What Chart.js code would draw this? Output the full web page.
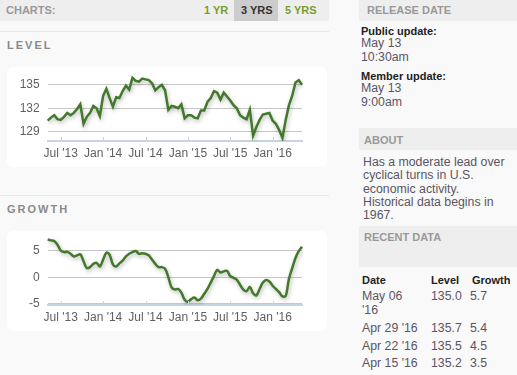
<!DOCTYPE html>
<html>
<head>
<meta charset="utf-8">
<script src="https://cdn.jsdelivr.net/npm/chart.js"></script>
<style>
body{margin:0;background:#f9f9f9;font-family:"Liberation Sans",Arial,sans-serif;width:517px;height:375px;overflow:hidden;position:relative}
.abs{position:absolute;white-space:nowrap}
.bar{position:absolute;background:#eeeeee}
.hd{font-weight:bold;font-size:11px;color:#999;line-height:14px}
.sec{font-weight:bold;font-size:11px;color:#8a8a8a;letter-spacing:2px;line-height:14px}
.card{position:absolute;left:7px;width:320px;height:100px;background:#fff;border-radius:6px}
.sep{position:absolute;left:0;width:329px;height:1px;background:#e8e8e8}
.lbl{font-weight:bold;font-size:11px;color:#222;line-height:14px}
.txt{font-size:12.3px;color:#5b5563;line-height:14px}
.grn{font-weight:bold;font-size:11px;color:#7a9e2c;line-height:14px}
</style>
</head>
<body>
<div class="bar" style="left:0;top:0;width:329px;height:21px"></div>
<div class="abs hd" style="left:6px;top:3px">CHARTS:</div>
<div class="abs grn" style="left:204px;top:3px">1 YR</div>
<div class="bar" style="left:234px;top:0;width:44px;height:21px;background:#cccccc"></div>
<div class="abs hd" style="left:241px;top:3px;color:#333">3 YRS</div>
<div class="abs grn" style="left:285px;top:3px">5 YRS</div>
<div class="sep" style="top:31px"></div>
<div class="abs sec" style="left:7px;top:38px">LEVEL</div>
<div class="card" style="top:67px"><canvas id="levelChart"></canvas></div>
<div class="sep" style="top:195px"></div>
<div class="abs sec" style="left:7px;top:202px">GROWTH</div>
<div class="card" style="top:231px"><canvas id="growthChart"></canvas></div>

<div class="bar" style="left:359px;top:0;width:158px;height:21px"></div>
<div class="abs hd" style="left:367px;top:3px">RELEASE DATE</div>
<div class="abs lbl" style="left:361px;top:24px">Public update:</div>
<div class="abs txt" style="left:361px;top:36px">May 13</div>
<div class="abs txt" style="left:361px;top:50px">10:30am</div>
<div class="abs lbl" style="left:361px;top:69px">Member update:</div>
<div class="abs txt" style="left:361px;top:81px">May 13</div>
<div class="abs txt" style="left:361px;top:95px">9:00am</div>

<div class="bar" style="left:359px;top:128px;width:158px;height:22px"></div>
<div class="abs hd" style="left:364px;top:133px">ABOUT</div>
<div class="abs txt" style="left:363px;top:156px;line-height:13.35px">Has a moderate lead over<br>cyclical turns in U.S.<br>economic activity.<br>Historical data begins in<br>1967.</div>

<div class="bar" style="left:359px;top:226px;width:158px;height:41px"></div>
<div class="abs hd" style="left:364px;top:230px">RECENT DATA</div>
<div class="abs lbl" style="left:362px;top:273px">Date</div>
<div class="abs lbl" style="left:431px;top:273px">Level</div>
<div class="abs lbl" style="left:472px;top:273px">Growth</div>
<div class="abs txt" style="left:362px;top:289px">May 06</div>
<div class="abs txt" style="left:362px;top:303px">'16</div>
<div class="abs txt" style="left:431px;top:289px">135.0</div>
<div class="abs txt" style="left:470px;top:289px">5.7</div>
<div class="abs txt" style="left:362px;top:321px">Apr 29 '16</div>
<div class="abs txt" style="left:431px;top:321px">135.7</div>
<div class="abs txt" style="left:470px;top:321px">5.4</div>
<div class="abs txt" style="left:362px;top:339px">Apr 22 '16</div>
<div class="abs txt" style="left:431px;top:339px">135.5</div>
<div class="abs txt" style="left:470px;top:339px">4.5</div>
<div class="abs txt" style="left:362px;top:356px">Apr 15 '16</div>
<div class="abs txt" style="left:431px;top:356px">135.2</div>
<div class="abs txt" style="left:470px;top:356px">3.5</div>

<script>
// biweekly readings, 10 May 2013 .. 6 May 2016
var levelValues = [
  130.4,130.8,131.1,130.6,130.5,130.9,131.4,131.1,131.4,131.9,
  132.5,130.0,130.9,131.4,132.3,132.0,131.0,133.6,134.5,133.3,
  132.2,133.4,133.3,134.2,134.9,134.4,135.9,135.5,135.4,135.8,
  135.7,135.6,135.2,134.3,134.7,135.0,134.3,131.8,132.3,132.2,
  132.0,132.5,130.7,131.1,131.1,130.8,130.7,131.7,131.7,132.8,
  133.3,134.2,134.0,133.1,134.0,133.5,133.0,132.4,132.0,131.1,
  130.8,130.6,131.8,128.5,129.6,130.5,131.2,131.3,131.4,130.4,
  130.0,129.2,128.2,130.5,132.4,133.6,135.3,135.6,135.0
];
var growthValues = [
  7.1,6.9,6.8,6.1,5.0,4.7,4.75,4.4,3.9,4.1,
  4.3,3.0,1.7,1.9,2.5,2.7,2.0,3.3,4.6,4.2,
  2.4,2.0,2.6,3.1,3.9,4.4,4.7,4.9,4.4,4.5,
  4.4,4.1,3.3,2.5,1.9,1.9,1.6,0.0,-1.9,-2.3,
  -2.2,-2.9,-4.2,-4.6,-4.1,-3.8,-4.3,-4.0,-3.1,-2.2,
  -1.0,0.2,1.4,0.9,1.1,1.2,0.2,-0.1,-0.45,-1.4,
  -2.3,-2.6,-1.8,-3.0,-3.4,-2.2,-1.0,-0.5,-0.8,-1.6,
  -2.2,-2.8,-3.6,-3.5,-0.3,1.7,3.6,4.9,5.7
];
var tickLabels = ["Jul '13", "Jan '14", "Jul '14", "Jan '15", "Jul '15", "Jan '16"];
var levelTicks = [129, 132, 135];
var growthTicks = [-5, 0, 5];

var startDate = new Date(2013, 4, 10);
var dates = levelValues.map(function (v, i) {
  var d = new Date(startDate);
  d.setDate(d.getDate() + i * 14);
  return d;
});
var names = dates.map(function (d) {
  var m = d.getMonth();
  if ((m === 0 || m === 6) && d.getDate() <= 14) {
    var s = (m === 0 ? 'Jan' : 'Jul') + " '" + String(d.getFullYear()).slice(2);
    if (tickLabels.indexOf(s) >= 0) return s;
  }
  return '';
});
var labels = dates.map(function (d) { return d.toISOString().slice(0, 10); });

var shadow = {
  id: 'shadow',
  beforeDatasetDraw: function (chart) {
    var c = chart.ctx;
    c.save();
    c.shadowColor = 'rgba(0,0,0,0.28)';
    c.shadowBlur = 4;
    c.shadowOffsetX = 1;
    c.shadowOffsetY = 2;
  },
  afterDatasetDraw: function (chart) { chart.ctx.restore(); }
};
var tickMarks = {
  id: 'tickMarks',
  afterDraw: function (chart) {
    var x = chart.scales.x, c = chart.ctx, b = chart.chartArea.bottom;
    c.save();
    c.strokeStyle = '#c4d4e4';
    c.lineWidth = 1;
    names.forEach(function (n, i) {
      if (!n) return;
      var px = Math.round(x.getPixelForValue(i)) + 0.5;
      c.beginPath();
      c.moveTo(px, b - 4);
      c.lineTo(px, b);
      c.stroke();
    });
    c.restore();
  }
};

function makeChart(id, values, yMin, yMax, yTicks, tension) {
  return new Chart(id, {
    type: 'line',
    data: {
      labels: labels,
      datasets: [{
        data: values,
        borderColor: '#43792a',
        borderWidth: 2.5,
        pointRadius: 0,
        tension: tension,
        fill: false
      }]
    },
    options: {
      responsive: true,
      maintainAspectRatio: false,
      animation: false,
      layout: { padding: { left: 0, right: 25, top: 3, bottom: 0 } },
      plugins: { legend: { display: false }, tooltip: { enabled: false } },
      scales: {
        x: {
          grid: { display: false, drawTicks: false },
          border: { display: true, color: '#c4d4e4', width: 2 },
          ticks: {
            autoSkip: false, maxRotation: 0, padding: 5, color: '#606060',
            font: { size: 12, family: '"Liberation Sans", Arial, sans-serif' },
            callback: function (v, i) { return names[i]; }
          },
          afterFit: function (s) { s.height = 26; s.paddingLeft = 0; s.paddingRight = 0; }
        },
        y: {
          min: yMin, max: yMax,
          grid: { color: '#c6c6c6', drawTicks: false },
          border: { display: false },
          ticks: {
            padding: 8, color: '#606060',
            font: { size: 12, family: '"Liberation Sans", Arial, sans-serif' }
          },
          afterBuildTicks: function (s) {
            s.ticks = yTicks.map(function (v) { return { value: v }; });
          },
          afterFit: function (s) { s.width = 40.7; s.paddingTop = 0; s.paddingBottom = 0; }
        }
      }
    },
    plugins: [shadow, tickMarks]
  });
}

makeChart('levelChart', levelValues, 127.8, 136.9, levelTicks, 0);
makeChart('growthChart', growthValues, -5.2, 8.1, growthTicks, 0.35);
</script>
</body>
</html>
